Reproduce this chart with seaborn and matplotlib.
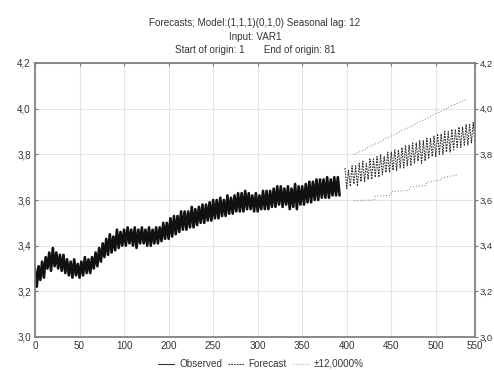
import matplotlib
matplotlib.use("Agg")
import matplotlib.pyplot as plt
import numpy as np
import pandas as pd
import seaborn as sns

# DATA (axis units)
obs_t = np.arange(0, 344, 2)
obs_v = [3.30, 3.22, 3.31, 3.25, 3.33, 3.26, 3.35, 3.30, 3.37, 3.29,
         3.39, 3.31, 3.37, 3.30, 3.36, 3.29, 3.36, 3.28, 3.34, 3.27,
         3.33, 3.26, 3.34, 3.27, 3.32, 3.26, 3.33, 3.27, 3.35, 3.28,
         3.34, 3.28, 3.35, 3.30, 3.37, 3.31, 3.39, 3.33, 3.41, 3.35,
         3.43, 3.36, 3.45, 3.37, 3.44, 3.38, 3.47, 3.39, 3.46, 3.40,
         3.47, 3.40, 3.48, 3.41, 3.47, 3.40, 3.48, 3.39, 3.47, 3.41,
         3.48, 3.41, 3.47, 3.40, 3.48, 3.40, 3.47, 3.41, 3.48, 3.41,
         3.48, 3.42, 3.50, 3.43, 3.50, 3.43, 3.52, 3.44, 3.53, 3.45,
         3.53, 3.46, 3.55, 3.47, 3.55, 3.47, 3.55, 3.48, 3.57, 3.48,
         3.56, 3.49, 3.57, 3.50, 3.58, 3.50, 3.58, 3.51, 3.59, 3.51,
         3.60, 3.52, 3.60, 3.52, 3.61, 3.53, 3.60, 3.53, 3.62, 3.54,
         3.61, 3.54, 3.62, 3.55, 3.63, 3.55, 3.63, 3.55, 3.64, 3.56,
         3.63, 3.56, 3.62, 3.55, 3.63, 3.55, 3.62, 3.56, 3.64, 3.56,
         3.64, 3.56, 3.64, 3.57, 3.65, 3.57, 3.66, 3.58, 3.66, 3.57,
         3.65, 3.58, 3.66, 3.56, 3.65, 3.57, 3.67, 3.56, 3.66, 3.58,
         3.66, 3.58, 3.67, 3.59, 3.68, 3.59, 3.68, 3.60, 3.69, 3.60,
         3.69, 3.61, 3.69, 3.61, 3.70, 3.61, 3.69, 3.62, 3.70, 3.62,
         3.70, 3.62]

fc_t = np.arange(348, 496, 2)
fc_v = [3.74, 3.65, 3.73, 3.66, 3.75, 3.67, 3.75, 3.66, 3.76, 3.68,
        3.77, 3.68, 3.76, 3.69, 3.78, 3.69, 3.78, 3.70, 3.79, 3.70,
        3.80, 3.71, 3.79, 3.72, 3.81, 3.72, 3.81, 3.73, 3.82, 3.73,
        3.82, 3.74, 3.83, 3.74, 3.84, 3.75, 3.84, 3.75, 3.85, 3.76,
        3.85, 3.77, 3.86, 3.76, 3.86, 3.77, 3.87, 3.78, 3.87, 3.79,
        3.88, 3.79, 3.89, 3.80, 3.89, 3.80, 3.90, 3.81, 3.90, 3.81,
        3.91, 3.82, 3.91, 3.83, 3.92, 3.83, 3.92, 3.84, 3.93, 3.84,
        3.93, 3.85, 3.94, 3.85]

up_t = np.arange(358, 490, 6)
up_v = [3.80, 3.81, 3.82, 3.835, 3.845, 3.855, 3.87, 3.88, 3.89, 3.905, 3.915,
        3.925, 3.94, 3.95, 3.96, 3.975, 3.985, 3.995, 4.01, 4.02, 4.03, 4.04]

lo_t = [358, 381, 382, 399, 400, 420, 421, 439, 440, 456, 457, 475]
lo_v = [3.597, 3.600, 3.617, 3.620, 3.637, 3.642, 3.656, 3.664, 3.678, 3.688, 3.698, 3.71]

xtick_pos = [0, 50, 100, 150, 200, 250, 300, 350, 400, 450, 494]
xtick_lab = ["0", "50", "100", "200", "250", "300", "350", "400", "450", "500", "550"]
ytick_pos = [3.0, 3.2, 3.4, 3.6, 3.8, 4.0, 4.2]
ytick_lab = ["3,0", "3,2", "3,4", "3,6", "3,8", "4,0", "4,2"]

sns.set_style("white")
plt.rcParams['font.family'] = ['Liberation Sans', 'DejaVu Sans']
txt = "#333333"
fs = 7.1

fig = plt.figure(figsize=(4.94, 3.70), dpi=100)
ax = fig.add_axes([35/494, 1-337/370, 440/494, 274/370])

obs = pd.DataFrame({"t": obs_t, "v": obs_v})
fc = pd.DataFrame({"t": fc_t, "v": fc_v})
up = pd.DataFrame({"t": up_t, "v": up_v})
lo = pd.DataFrame({"t": lo_t, "v": lo_v})

sns.lineplot(data=obs, x="t", y="v", ax=ax, color="#111111", lw=1.9)
sns.lineplot(data=fc, x="t", y="v", ax=ax, color="#333333", lw=0.8, linestyle=(0, (1.5, 1)))
sns.lineplot(data=up, x="t", y="v", ax=ax, color="#999999", lw=0.8, linestyle=":")
sns.lineplot(data=lo, x="t", y="v", ax=ax, color="#999999", lw=0.8, linestyle=":")

ax.set_xlim(0, 494)
ax.set_ylim(3.0, 4.2)
ax.set_xticks(xtick_pos)
ax.set_xticklabels(xtick_lab)
ax.set_yticks(ytick_pos)
ax.set_yticklabels(ytick_lab)
ax.set_xlabel("")
ax.set_ylabel("")
ax.grid(True, color="#e4e4e4", lw=0.8)
ax.tick_params(axis="both", direction="in", length=2, labelsize=fs,
               colors="#777777", labelcolor=txt, top=True, pad=3)
for s in ax.spines.values():
    s.set_color("#808080")
    s.set_linewidth(1.3)

ax2 = ax.twinx()
ax2.set_ylim(3.0, 4.2)
ax2.set_yticks(ytick_pos)
ax2.set_yticklabels(ytick_lab)
ax2.tick_params(axis="y", direction="out", length=2, labelsize=6.8,
                colors="#777777", labelcolor=txt, pad=1.5)
for s in ax2.spines.values():
    s.set_visible(False)

cx = (35 + 475) / 2 / 494
fig.text(cx, 1-23/370, "Forecasts; Model:(1,1,1)(0,1,0) Seasonal lag: 12",
         ha="center", va="center", fontsize=fs, color=txt)
fig.text(cx, 1-37/370, "Input: VAR1", ha="center", va="center", fontsize=fs, color=txt)
fig.text(cx, 1-50/370, "Start of origin: 1       End of origin: 81",
         ha="center", va="center", fontsize=fs, color=txt)

h1, = ax.plot([], [], color="#333333", lw=0.8)
h2, = ax.plot([], [], color="#333333", lw=0.8, linestyle=(0, (1.5, 1)))
h3, = ax.plot([], [], color="#aaaaaa", lw=0.8, linestyle=":")
fig.legend([h1, h2, h3], ["Observed", "Forecast", "±12,0000%"], ncol=3,
           loc="center", bbox_to_anchor=(261/494, 1-364/370), frameon=False,
           fontsize=fs, handlelength=1.6, handletextpad=0.5, columnspacing=0.6,
           labelcolor=txt, borderpad=0.2)

fig.savefig("out.png", dpi=100, facecolor="white")
